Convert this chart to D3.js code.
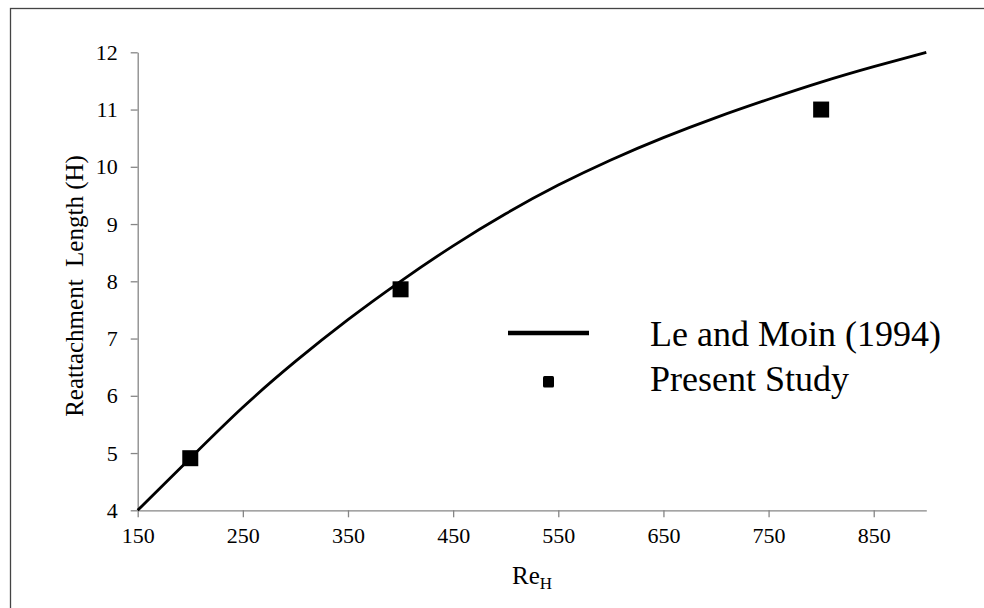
<!DOCTYPE html>
<html>
<head>
<meta charset="utf-8">
<script src="https://cdn.jsdelivr.net/npm/d3@7"></script>
<style>
	body { margin: 0; background: #fff; }
	svg { display: block; }
	svg text { font-family: "Liberation Serif", "Times New Roman", serif; fill: #000; }
</style>
</head>
<body>
<svg width="984" height="608"></svg>
<script>
// Le and Moin (1994) curve
var curveRe = [150, 200, 250, 300, 350, 400, 450, 500, 550, 600, 650, 700, 750, 800, 850, 900];
var curveLen = [4.0, 4.91, 5.8, 6.6, 7.33, 8.0, 8.62, 9.18, 9.68, 10.12, 10.51, 10.86, 11.18, 11.48, 11.75, 12.0];

// present study points
var studyRe = [200, 400, 800];
var studyLen = [4.91, 7.86, 11.0];

var xTicks = [150, 250, 350, 450, 550, 650, 750, 850];
var yTicks = [4, 5, 6, 7, 8, 9, 10, 11, 12];
var legendNames = ["Le and Moin (1994)", "Present Study"];

var serif = "'Liberation Serif', 'Times New Roman', serif";
var svg = d3.select("svg");

// outer frame (right and bottom edges fall outside the picture)
svg.append("rect")
	.attr("x", 10.5).attr("y", 8.5)
	.attr("width", 1000).attr("height", 700)
	.attr("fill", "none")
	.attr("stroke", "#444")
	.attr("stroke-width", 1.3);

var x = d3.scaleLinear().domain([150, 900]).range([137.7, 926.3]);
var y = d3.scaleLinear().domain([4, 12]).range([510.3, 52.3]);

var axisColor = "#868686";

//x axis
var gx = svg.append("g")
	.attr("transform", "translate(0," + y(4) + ")")
	.call(d3.axisBottom(x).tickValues(xTicks).tickSize(7).tickPadding(10).tickSizeOuter(0));
//y axis
var gy = svg.append("g")
	.attr("transform", "translate(" + x(150) + ",0)")
	.call(d3.axisLeft(y).tickValues(yTicks).tickSize(7).tickPadding(13).tickSizeOuter(0));

[gx, gy].forEach(function (g) {
	g.attr("font-family", null).attr("font-size", null);
	g.select(".domain").attr("stroke", axisColor).attr("stroke-width", 1.3);
	g.selectAll(".tick line").attr("stroke", axisColor).attr("stroke-width", 1.3);
	g.selectAll(".tick text")
		.style("font-family", serif)
		.style("font-size", "22px")
		.attr("fill", "#000");
});

// axis titles
var xt = svg.append("text")
	.attr("x", (x(150) + x(900)) / 2)
	.attr("y", 584)
	.attr("text-anchor", "middle")
	.style("font-family", serif)
	.style("font-size", "25px");
xt.append("tspan").text("Re");
xt.append("tspan").attr("dy", 5).style("font-size", "17px").text("H");

svg.append("text")
	.attr("transform", "translate(83,286) rotate(-90)")
	.attr("text-anchor", "middle")
	.style("font-family", serif)
	.style("font-size", "25px")
	.style("white-space", "pre")
	.text("Reattachment  Length (H)");

// curve
var line = d3.line()
	.x(function (d) { return x(d[0]); })
	.y(function (d) { return y(d[1]); })
	.curve(d3.curveNatural);

svg.append("path")
	.datum(d3.zip(curveRe, curveLen))
	.attr("d", line)
	.attr("fill", "none")
	.attr("stroke", "#000")
	.attr("stroke-width", 2.8);

// markers
var ms = 16;
svg.selectAll("rect.pt")
	.data(d3.zip(studyRe, studyLen))
	.enter().append("rect")
	.attr("class", "pt")
	.attr("x", function (d) { return x(d[0]) - ms / 2; })
	.attr("y", function (d) { return y(d[1]) - ms / 2; })
	.attr("width", ms).attr("height", ms)
	.attr("fill", "#000");

// legend
var lg = svg.append("g");
lg.append("line")
	.attr("x1", 508).attr("x2", 589)
	.attr("y1", 333).attr("y2", 333)
	.attr("stroke", "#000").attr("stroke-width", 4.5);
lg.append("rect")
	.attr("x", 543).attr("y", 376)
	.attr("width", 11).attr("height", 11.5)
	.attr("rx", 1.5)
	.attr("fill", "#000");
lg.selectAll("text")
	.data(legendNames)
	.enter().append("text")
	.attr("x", 650)
	.attr("y", function (d, i) { return 346 + i * 45; })
	.style("font-family", serif)
	.style("font-size", "36px")
	.text(function (d) { return d; });
</script>
</body>
</html>
